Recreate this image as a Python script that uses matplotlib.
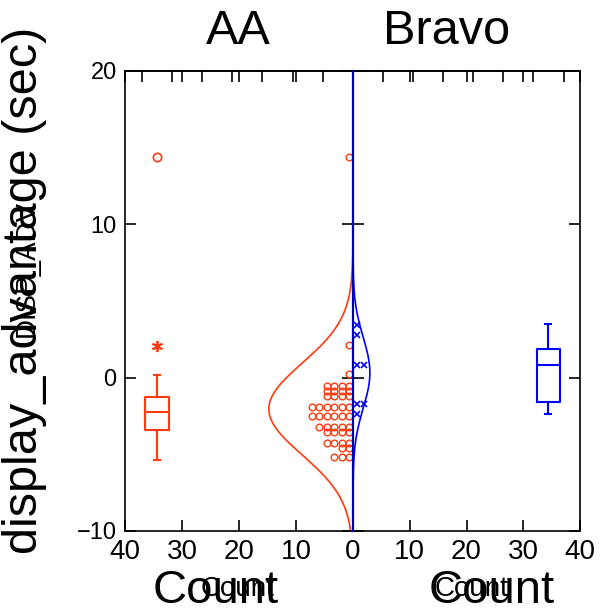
import numpy as np
import matplotlib
matplotlib.use("Agg")
import matplotlib.pyplot as plt

plt.rcParams['font.family'] = ['Liberation Sans', 'DejaVu Sans']

# %%
# Dot plot rows: value of the row and number of dots in it
aa_rows = [14.4, 2.1, 0.26, -0.52, -0.85, -1.2, -1.91, -2.52, -3.2, -3.57, -4.26, -4.61, -5.17]
aa_counts = [1, 1, 1, 4, 4, 4, 6, 6, 5, 4, 4, 2, 3]
bravo_rows = [3.46, 2.8, 0.85, -1.7, -2.35]
bravo_counts = [1, 1, 2, 2, 1]

# Box plot stats
aa_box = dict(whislo=-5.39, q1=-3.39, med=-2.26, q3=-1.29, whishi=0.2)
aa_outside = [2.04]   # asterisk
aa_far = [14.4]       # circle
bravo_box = dict(whislo=-2.35, q1=-1.61, med=0.85, q3=1.87, whishi=3.5)

groups = ['AA', 'Bravo']
count_ticks = [0, 10, 20, 30, 40]
value_ticks = [-10, 0, 10, 20]

red = '#ff3a10'
blue = '#0000ff'

box_pos = 34.4       # box plots sit at this count
dot_step = 1.32      # spacing between stacked dots, in count units
curve_bin = 2.45     # bin width used to scale the normal curve

# %%
fig = plt.figure(figsize=(6.05, 6.12), dpi=100)
ax_l = fig.add_axes([0.2066, 0.1324, 0.3769, 0.7516])
ax_r = fig.add_axes([0.5835, 0.1324, 0.3752, 0.7516], sharey=ax_l)

y_grid = np.linspace(-10, 20, 600)


def draw_group(ax, rows, counts, color, marker, box):
    values = np.repeat(rows, counts)
    # stacked dots
    for v, c in zip(rows, counts):
        xs = 0.65 + dot_step * np.arange(c)
        if marker == 'o':
            ax.plot(xs, [v] * c, 'o', ms=4.8, mfc='none', mec=color, mew=1.0, clip_on=False)
        else:
            ax.plot(xs, [v] * c, 'x', ms=5, color=color, mew=1.2, clip_on=False)
    # fitted normal curve
    mu, sd = values.mean(), values.std(ddof=1)
    pdf = np.exp(-0.5 * ((y_grid - mu) / sd) ** 2) / (sd * np.sqrt(2 * np.pi))
    ax.plot(len(values) * curve_bin * pdf, y_grid, color=color, lw=1.2)
    # box plot
    stats = dict(box, fliers=[])
    props = dict(color=color, linewidth=1.5)
    ax.bxp([stats], positions=[box_pos], widths=4.1, capwidths=1.1,
           showfliers=False, manage_ticks=False, boxprops=props,
           whiskerprops=props, capprops=props, medianprops=props)


draw_group(ax_l, aa_rows, aa_counts, red, 'o', aa_box)
ax_l.plot([box_pos] * len(aa_outside), aa_outside, marker=(6, 2, 0), ls='none',
          ms=8, color=red, mew=1.3)
ax_l.plot([box_pos] * len(aa_far), aa_far, 'o', ms=6, mfc='none', mec=red, mew=1.2)
draw_group(ax_r, bravo_rows, bravo_counts, blue, 'x', bravo_box)
ax_r.axvline(0, color='#0000b4', lw=1.6, zorder=5, clip_on=False)

for ax in (ax_l, ax_r):
    ax.set_ylim(-10, 20)
    ax.set_yticks(value_ticks)
    ax.set_xticks(count_ticks)
    ax.tick_params(direction='in', length=8, width=1.2, top=True, right=True,
                   labeltop=False)
    ax.tick_params(axis='x', labelsize=20, pad=6)
    ax.tick_params(axis='y', labelsize=17, pad=6)
    for s in ax.spines.values():
        s.set_linewidth(1.2)
    # top axis: proportion ticks
    top = ax.secondary_xaxis('top', functions=(lambda c: c / 53, lambda p: p * 53))
    top.set_xticks(np.arange(0, 0.8, 0.1))
    top.tick_params(direction='in', length=8, width=1.2, labeltop=False)
    top.spines['top'].set_linewidth(1.2)

ax_l.set_xlim(40, 0)
ax_r.set_xlim(0, 40)
ax_r.set_xticklabels(['', '10', '20', '30', '40'])
ax_r.tick_params(labelleft=False)

# titles and axis labels
fig.text(238 / 605, 1 - 32 / 612, groups[0], fontsize=35, ha='center', va='center')
fig.text(447 / 605, 1 - 32 / 612, groups[1], fontsize=35, ha='center', va='center')
fig.text(216 / 605, 1 - 591 / 612, 'Count', fontsize=34, ha='center', va='center')
fig.text(492 / 605, 1 - 591 / 612, 'Count', fontsize=34, ha='center', va='center')
fig.text(238 / 605, 1 - 589 / 612, 'Count', fontsize=20, ha='center', va='center')
fig.text(472 / 605, 1 - 589 / 612, 'Count', fontsize=20, ha='center', va='center')
fig.text(25 / 605, 1 - 290 / 612, 'display_advantage (sec)', fontsize=35,
         rotation=90, ha='center', va='center')
fig.text(27 / 605, 1 - 268 / 612, 'DISP_ADV', fontsize=20,
         rotation=90, ha='center', va='center')

fig.savefig('out.png', dpi=100)
